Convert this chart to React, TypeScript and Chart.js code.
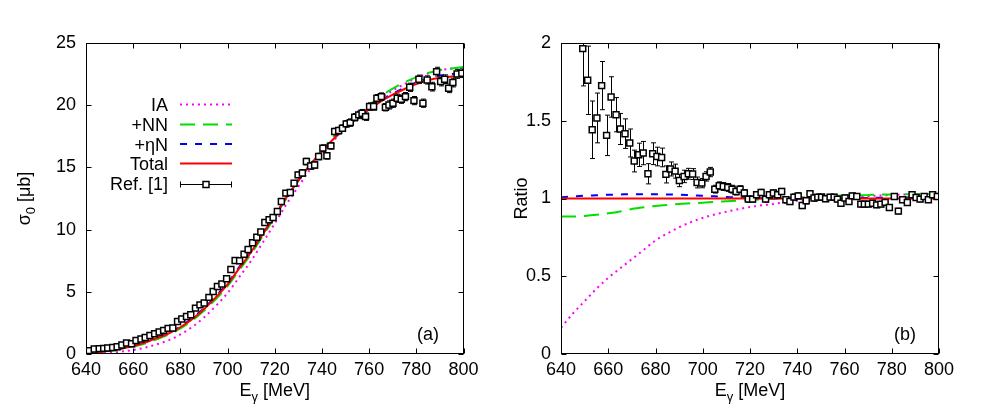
import React, { useEffect, useRef } from "react";
import { Chart, registerables } from "chart.js";

Chart.register(...registerables);

const FONT = '"Liberation Sans", Arial, Helvetica, sans-serif';
const TEXT_SIZE = 18;

// ---- Measured data (Ref. [1]) ----
const energies = [
  641.4, 643.5, 645.6, 647.5, 649.2, 651.3, 653.2, 655.2, 657.2, 659.3,
  661.2, 663.3, 665.1, 667.1, 669.1, 671.0, 672.9, 674.8, 676.8, 678.8,
  680.6, 682.6, 684.4, 686.4, 688.3, 690.1, 692.1, 693.9, 695.7, 697.6,
  699.6, 701.4, 703.2, 705.1, 707.0, 708.7, 710.6, 712.4, 714.1, 715.8,
  717.6, 719.3, 721.1, 722.8, 724.7, 726.6, 728.2, 729.9, 731.7, 733.4,
  735.2, 736.9, 738.6, 740.4, 742.1, 743.8, 745.4, 747.1, 748.7, 750.3,
  752.0, 753.9, 755.6, 757.0, 758.5, 760.2, 761.9, 763.3, 765.2, 766.9,
  768.4, 770.1, 771.9, 773.6, 775.4, 777.2, 779.0, 781.1, 782.8, 784.6,
  786.6, 788.6, 790.3, 792.0, 793.7, 795.5, 797.3, 799.3,
];

const crossSection = [
  0.27, 0.40, 0.43, 0.45, 0.48, 0.53, 0.59, 0.72, 0.88, 0.83,
  1.09, 1.20, 1.33, 1.49, 1.63, 1.77, 1.90, 2.06, 2.09, 2.62,
  2.81, 3.02, 3.16, 3.69, 3.95, 4.10, 4.55, 5.03, 5.43, 5.62,
  6.05, 6.80, 7.52, 7.50, 8.02, 8.40, 8.94, 9.38, 9.80, 10.57,
  10.79, 10.97, 11.45, 12.26, 12.93, 12.98, 13.73, 14.40, 14.55, 15.47,
  15.12, 15.20, 15.87, 16.55, 15.93, 16.73, 17.88, 17.96, 18.15, 18.50,
  18.60, 19.03, 19.22, 19.36, 19.08, 19.89, 19.90, 20.56, 20.69, 19.84,
  20.02, 20.16, 20.56, 20.48, 20.69, 21.44, 20.37, 22.09, 20.16, 22.03,
  21.49, 22.70, 21.90, 22.09, 21.36, 21.82, 22.51, 22.57,
];

const crossSectionErr = [
  0.04, 0.04, 0.04, 0.04, 0.06, 0.06, 0.06, 0.06, 0.06, 0.06,
  0.08, 0.08, 0.08, 0.08, 0.08, 0.08, 0.08, 0.08, 0.10, 0.10,
  0.10, 0.10, 0.10, 0.10, 0.10, 0.14, 0.14, 0.14, 0.14, 0.14,
  0.14, 0.18, 0.18, 0.18, 0.18, 0.18, 0.18, 0.18, 0.18, 0.22,
  0.22, 0.22, 0.22, 0.22, 0.22, 0.22, 0.22, 0.22, 0.26, 0.26,
  0.26, 0.26, 0.26, 0.26, 0.26, 0.26, 0.26, 0.26, 0.26, 0.26,
  0.30, 0.30, 0.30, 0.30, 0.30, 0.30, 0.30, 0.30, 0.30, 0.30,
  0.33, 0.33, 0.33, 0.33, 0.33, 0.33, 0.33, 0.33, 0.33, 0.33,
  0.35, 0.35, 0.35, 0.35, 0.35, 0.35, 0.35, 0.35,
];

// ratio to Total (first points lie above the plotted range)
const ratio = [
  null, null, null, null, 1.964, 1.76, 1.442, 1.518, 1.726, 1.406,
  1.653, 1.539, 1.447, 1.417, 1.357, 1.241, 1.281, 1.292, 1.159, 1.288,
  1.27, 1.264, 1.155, 1.19, 1.176, 1.116, 1.142, 1.159, 1.157, 1.103,
  1.099, 1.142, 1.17, 1.06, 1.082, 1.077, 1.071, 1.06, 1.045, 1.06,
  1.035, 0.996, 0.996, 1.024, 1.039, 0.996, 1.024, 1.035, 1.024, 1.045,
  0.992, 0.981, 1.009, 1.017, 0.955, 0.985, 1.03, 1.003, 1.009, 1.009,
  0.998, 1.009, 1.009, 0.996, 0.97, 1.003, 0.981, 1.017, 1.013, 0.964,
  0.964, 0.964, 0.97, 0.959, 0.964, 0.975, 0.942, 1.013, 0.919, 0.992,
  0.974, 1.024, 1.006, 0.996, 1.013, 0.992, 1.024, 1.013,
];

const ratioErr = [
  0, 0, 0, 0, 0.24, 0.22, 0.185, 0.16, 0.155, 0.13,
  0.13, 0.11, 0.10, 0.095, 0.09, 0.07, 0.075, 0.075, 0.065, 0.07,
  0.06, 0.06, 0.055, 0.045, 0.045, 0.04, 0.04, 0.035, 0.035, 0.035,
  0.03, 0.03, 0.03, 0.025, 0.025, 0.025, 0.025, 0.025, 0.022, 0.022,
  0.022, 0.02, 0.02, 0.02, 0.02, 0.02, 0.02, 0.02, 0.02, 0.02,
  0.02, 0.02, 0.02, 0.02, 0.02, 0.02, 0.02, 0.02, 0.02, 0.02,
  0.018, 0.018, 0.018, 0.018, 0.018, 0.018, 0.018, 0.018, 0.018, 0.018,
  0.018, 0.018, 0.018, 0.018, 0.018, 0.018, 0.018, 0.018, 0.018, 0.018,
  0.018, 0.018, 0.018, 0.018, 0.018, 0.018, 0.018, 0.018,
];

// ---- Theory curves ----
const curveEnergies = [
  640, 645, 650, 655, 660, 665, 670, 675, 680, 685, 690, 695, 700, 705, 710, 715,
  720, 725, 730, 735, 740, 745, 750, 755, 760, 765, 770, 775, 780, 785, 790, 795, 800,
];
const curveIA = [
  0.014, 0.04, 0.09, 0.19, 0.32, 0.51, 0.78, 1.1, 1.57, 2.17, 2.93, 3.86, 4.9, 6.19, 7.5, 8.98,
  10.49, 12.05, 13.46, 14.84, 16.06, 17.16, 18.16, 19.0, 19.81, 20.54, 21.18, 21.7, 22.18, 22.55, 22.8, 22.95, 23.07,
];
const curveNN = [
  0.07, 0.13, 0.24, 0.40, 0.59, 0.84, 1.19, 1.56, 2.05, 2.69, 3.47, 4.41, 5.45, 6.75, 8.05, 9.51,
  10.99, 12.52, 13.92, 15.23, 16.4, 17.47, 18.44, 19.25, 20.02, 20.73, 21.33, 21.83, 22.26, 22.59, 22.82, 22.95, 23.07,
];
const curveEtaN = [
  0.081, 0.152, 0.275, 0.459, 0.666, 0.944, 1.316, 1.696, 2.21, 2.873, 3.686, 4.646, 5.701, 6.997, 8.282, 9.708,
  11.133, 12.613, 13.95, 15.185, 16.284, 17.3, 18.2, 18.97, 19.69, 20.36, 20.93, 21.41, 21.83, 22.15, 22.38, 22.5, 22.62,
];
const curveTotal = [
  0.08, 0.15, 0.27, 0.45, 0.65, 0.92, 1.28, 1.65, 2.15, 2.8, 3.6, 4.55, 5.6, 6.9, 8.2, 9.65,
  11.1, 12.6, 13.95, 15.2, 16.3, 17.3, 18.2, 18.95, 19.65, 20.3, 20.85, 21.3, 21.7, 22.0, 22.2, 22.3, 22.4,
];
const ratioIA = [
  0.17, 0.26, 0.34, 0.42, 0.49, 0.55, 0.61, 0.67, 0.73, 0.775, 0.815, 0.848, 0.875, 0.897, 0.915, 0.931,
  0.945, 0.956, 0.965, 0.976, 0.985, 0.992, 0.998, 1.003, 1.008, 1.012, 1.016, 1.019, 1.022, 1.025, 1.027, 1.029, 1.03,
];
const ratioNN = [
  0.884, 0.884, 0.888, 0.895, 0.905, 0.917, 0.932, 0.943, 0.952, 0.959, 0.965, 0.969, 0.973, 0.978, 0.982, 0.986,
  0.99, 0.994, 0.998, 1.002, 1.006, 1.01, 1.013, 1.016, 1.019, 1.021, 1.023, 1.025, 1.026, 1.027, 1.028, 1.029, 1.03,
];
const ratioEtaN = [
  1.008, 1.013, 1.018, 1.021, 1.024, 1.026, 1.028, 1.028, 1.028, 1.026, 1.024, 1.021, 1.018, 1.014, 1.01, 1.006,
  1.003, 1.001, 1.0, 0.999, 0.999, 1.0, 1.0, 1.001, 1.002, 1.003, 1.004, 1.005, 1.006, 1.007, 1.008, 1.009, 1.01,
];
const ratioTotal = [
  1, 1, 1, 1, 1, 1, 1, 1, 1, 1, 1, 1, 1, 1, 1, 1,
  1, 1, 1, 1, 1, 1, 1, 1, 1, 1, 1, 1, 1, 1, 1, 1, 1,
];

const legendLabels = ["IA", "+NN", "+\u03b7N", "Total", "Ref. [1]"];

const COLORS = {
  IA: "#ff00ff",
  NN: "#00e000",
  EtaN: "#0000ff",
  Total: "#ff0000",
};
const DASH = {
  IA: [2, 4],
  NN: [15, 8],
  EtaN: [7, 8],
  Total: [] as number[],
};

type PanelCfg = {
  yMin: number;
  yMax: number;
  yStep: number;
  yAxisWidth: number;
  rightPad: number;
  values: (number | null)[];
  errors: number[];
  curves: { y: number[]; key: "IA" | "NN" | "EtaN" | "Total" }[];
  yTitle: { t: string; sub?: boolean }[];
  yTitleX: number;
  panelLabel: string;
  panelLabelX: number;
  legend: boolean;
};

function drawParts(
  ctx: CanvasRenderingContext2D,
  parts: { t: string; sub?: boolean }[],
  cx: number,
  baseY: number,
  size: number
) {
  const widths: number[] = [];
  let total = 0;
  parts.forEach((p) => {
    ctx.font = `${p.sub ? Math.round(size * 0.72) : size}px ${FONT}`;
    const w = ctx.measureText(p.t).width;
    widths.push(w);
    total += w;
  });
  let x = cx - total / 2;
  ctx.textAlign = "left";
  ctx.textBaseline = "alphabetic";
  parts.forEach((p, i) => {
    ctx.font = `${p.sub ? Math.round(size * 0.72) : size}px ${FONT}`;
    ctx.fillText(p.t, x, baseY + (p.sub ? size * 0.28 : 0));
    x += widths[i];
  });
}

function makeDecor(cfg: PanelCfg) {
  return {
    id: "decor",
    beforeDatasetDraw(chart: any, args: any) {
      if (args.index !== 0) return;
      const ctx = chart.ctx as CanvasRenderingContext2D;
      const ca = chart.chartArea;
      const xs = chart.scales.x;
      const ys = chart.scales.y;
      ctx.save();
      ctx.beginPath();
      ctx.rect(ca.left, ca.top, ca.right - ca.left, ca.bottom - ca.top);
      ctx.clip();
      ctx.strokeStyle = "#000";
      ctx.lineWidth = 1;
      ctx.setLineDash([]);
      cfg.values.forEach((v, i) => {
        if (v == null) return;
        const e = cfg.errors[i];
        const x = Math.round(xs.getPixelForValue(energies[i])) + 0.5;
        const y1 = ys.getPixelForValue(v + e);
        const y2 = ys.getPixelForValue(v - e);
        ctx.beginPath();
        ctx.moveTo(x, y1);
        ctx.lineTo(x, y2);
        ctx.moveTo(x - 2.5, y1);
        ctx.lineTo(x + 2.5, y1);
        ctx.moveTo(x - 2.5, y2);
        ctx.lineTo(x + 2.5, y2);
        ctx.stroke();
      });
      ctx.restore();
    },
    afterDraw(chart: any) {
      const ctx = chart.ctx as CanvasRenderingContext2D;
      const ca = chart.chartArea;
      const xs = chart.scales.x;
      const ys = chart.scales.y;
      ctx.save();
      ctx.strokeStyle = "#000";
      ctx.lineWidth = 1;
      ctx.setLineDash([]);
      const L = Math.round(ca.left) + 0.5;
      const R = Math.round(ca.right) - 0.5;
      const T = Math.round(ca.top) + 0.5;
      const B = Math.round(ca.bottom) - 0.5;
      ctx.strokeRect(L, T, R - L, B - T);
      const TL = 5;
      ctx.beginPath();
      xs.ticks.forEach((t: any) => {
        const px = Math.round(xs.getPixelForValue(t.value)) + 0.5;
        ctx.moveTo(px, B);
        ctx.lineTo(px, B - TL);
        ctx.moveTo(px, T);
        ctx.lineTo(px, T + TL);
      });
      ys.ticks.forEach((t: any) => {
        const py = Math.round(ys.getPixelForValue(t.value)) + 0.5;
        ctx.moveTo(L, py);
        ctx.lineTo(L + TL, py);
        ctx.moveTo(R, py);
        ctx.lineTo(R - TL, py);
      });
      ctx.stroke();

      ctx.fillStyle = "#000";
      // x title
      drawParts(
        ctx,
        [{ t: "E" }, { t: "\u03b3", sub: true }, { t: " [MeV]" }],
        (ca.left + ca.right) / 2,
        396,
        TEXT_SIZE
      );
      // y title (rotated)
      ctx.save();
      ctx.translate(cfg.yTitleX, (ca.top + ca.bottom) / 2);
      ctx.rotate(-Math.PI / 2);
      drawParts(ctx, cfg.yTitle, 0, 6.5, TEXT_SIZE);
      ctx.restore();

      // panel label
      ctx.font = `${TEXT_SIZE}px ${FONT}`;
      ctx.textAlign = "center";
      ctx.textBaseline = "alphabetic";
      ctx.fillText(cfg.panelLabel, cfg.panelLabelX, 340);

      if (cfg.legend) {
        const rows = [104.5, 124.5, 144, 163.5, 183.5];
        const keys: ("IA" | "NN" | "EtaN" | "Total")[] = ["IA", "NN", "EtaN", "Total"];
        const x0 = 180;
        const x1 = 232;
        ctx.textAlign = "right";
        legendLabels.forEach((lab, i) => {
          ctx.fillStyle = "#000";
          ctx.font = `${TEXT_SIZE}px ${FONT}`;
          ctx.fillText(lab, 168, rows[i] + 6.5);
        });
        keys.forEach((k, i) => {
          ctx.beginPath();
          ctx.strokeStyle = COLORS[k];
          ctx.lineWidth = 2;
          ctx.setLineDash(DASH[k]);
          ctx.moveTo(x0, rows[i]);
          ctx.lineTo(x1, rows[i]);
          ctx.stroke();
        });
        ctx.setLineDash([]);
        ctx.strokeStyle = "#000";
        ctx.lineWidth = 1;
        const ry = Math.round(rows[4]) + 0.5;
        ctx.beginPath();
        ctx.moveTo(x0, ry);
        ctx.lineTo(x1, ry);
        ctx.moveTo(x0 + 0.5, ry - 3);
        ctx.lineTo(x0 + 0.5, ry + 3);
        ctx.moveTo(x1 - 0.5, ry - 3);
        ctx.lineTo(x1 - 0.5, ry + 3);
        ctx.stroke();
        ctx.fillStyle = "#fff";
        ctx.lineWidth = 1.5;
        ctx.fillRect(206 - 3, ry - 3, 6, 6);
        ctx.strokeRect(206 - 3, ry - 3, 6, 6);
      }
      ctx.restore();
    },
  };
}

function buildConfig(cfg: PanelCfg): any {
  const pointsDs = {
    data: energies.map((x, i) => ({ x, y: cfg.values[i] })),
    showLine: false,
    pointStyle: "rect",
    pointRadius: 4.2,
    pointBorderWidth: 1.5,
    pointBorderColor: "#000",
    pointBackgroundColor: "#fff",
    borderColor: "#000",
    backgroundColor: "#fff",
    order: 0,
  };
  const curveDs = cfg.curves.map((c, i) => ({
    data: curveEnergies.map((x, j) => ({ x, y: c.y[j] })),
    borderColor: COLORS[c.key],
    borderWidth: 2,
    borderDash: DASH[c.key],
    borderCapStyle: "butt",
    pointRadius: 0,
    fill: false,
    cubicInterpolationMode: "monotone",
    order: i + 1,
  }));
  const tickFont = { family: FONT, size: TEXT_SIZE };
  return {
    type: "line",
    data: { datasets: [pointsDs, ...curveDs] },
    plugins: [makeDecor(cfg)],
    options: {
      responsive: false,
      animation: false,
      events: [],
      layout: { padding: { left: 0, right: cfg.rightPad, top: 43, bottom: 0 } },
      plugins: { legend: { display: false }, tooltip: { enabled: false }, title: { display: false } },
      scales: {
        x: {
          type: "linear",
          min: 640,
          max: 800,
          ticks: {
            stepSize: 20,
            font: tickFont,
            color: "#000",
            padding: 5,
            maxRotation: 0,
            autoSkip: false,
          },
          grid: { display: false, drawTicks: false },
          border: { display: false },
          afterFit: (s: any) => {
            s.height = 66;
          },
        },
        y: {
          type: "linear",
          min: cfg.yMin,
          max: cfg.yMax,
          ticks: {
            stepSize: cfg.yStep,
            font: tickFont,
            color: "#000",
            padding: 10,
            callback: (v: any) => String(Number(v)),
          },
          grid: { display: false, drawTicks: false },
          border: { display: false },
          afterFit: (s: any) => {
            s.width = cfg.yAxisWidth;
          },
        },
      },
    },
  };
}

const leftCfg: PanelCfg = {
  yMin: 0,
  yMax: 25,
  yStep: 5,
  yAxisWidth: 86,
  rightPad: 36.5,
  values: crossSection,
  errors: crossSectionErr,
  curves: [
    { y: curveTotal, key: "Total" },
    { y: curveEtaN, key: "EtaN" },
    { y: curveNN, key: "NN" },
    { y: curveIA, key: "IA" },
  ],
  yTitle: [{ t: "\u03c3" }, { t: "0", sub: true }, { t: " [\u03bcb]" }],
  yTitleX: 23,
  panelLabel: "(a)",
  panelLabelX: 428,
  legend: true,
};

const rightCfg: PanelCfg = {
  yMin: 0,
  yMax: 2,
  yStep: 0.5,
  yAxisWidth: 61,
  rightPad: 61,
  values: ratio,
  errors: ratioErr,
  curves: [
    { y: ratioTotal, key: "Total" },
    { y: ratioEtaN, key: "EtaN" },
    { y: ratioNN, key: "NN" },
    { y: ratioIA, key: "IA" },
  ],
  yTitle: [{ t: "Ratio" }],
  yTitleX: 20,
  panelLabel: "(b)",
  panelLabelX: 405,
  legend: false,
};

function Panel({ cfg, left }: { cfg: PanelCfg; left: number }) {
  const ref = useRef<HTMLCanvasElement | null>(null);
  useEffect(() => {
    if (!ref.current) return;
    const chart = new Chart(ref.current, buildConfig(cfg));
    return () => chart.destroy();
  }, [cfg]);
  return (
    <canvas
      ref={ref}
      width={500}
      height={420}
      style={{ position: "absolute", left, top: 0, width: 500, height: 420, display: "block" }}
    />
  );
}

export default function App() {
  return (
    <div
      style={{
        position: "fixed",
        left: 0,
        top: 0,
        width: 1000,
        height: 420,
        background: "#fff",
        overflow: "hidden",
      }}
    >
      <Panel cfg={leftCfg} left={0} />
      <Panel cfg={rightCfg} left={500} />
    </div>
  );
}
